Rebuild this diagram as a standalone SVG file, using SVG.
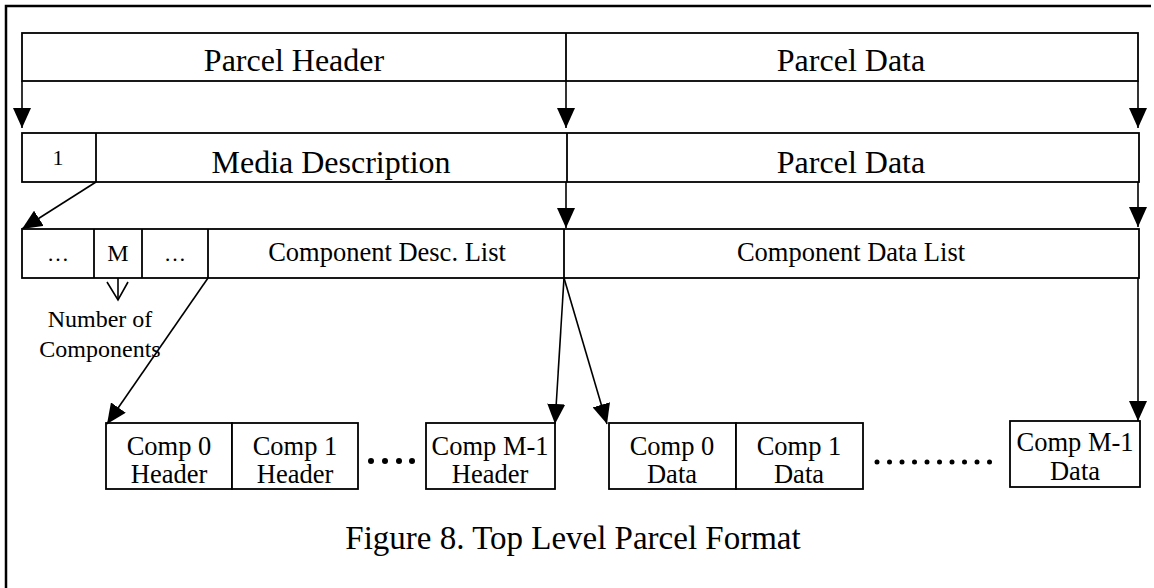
<svg xmlns="http://www.w3.org/2000/svg" width="1154" height="588" viewBox="0 0 1154 588">
  <style>
    .box { fill: #fff; stroke: #000; stroke-width: 1.8; }
    .div { stroke: #000; stroke-width: 1.8; fill: none; }
    .conn { stroke: #000; stroke-width: 1.6; fill: none; }
    .arr { marker-end: url(#head); }
    text { font-family: "Liberation Serif", "Times New Roman", serif; fill: #000; text-anchor: middle; }
    .big { font-size: 32px; }
    .mid { font-size: 26.5px; }
    .note { font-size: 24px; }
    .cap { font-size: 33px; }
  </style>
  <defs>
    <marker id="head" markerUnits="userSpaceOnUse" viewBox="0 0 20 18" markerWidth="20" markerHeight="18" refX="20" refY="9" orient="auto">
      <path d="M0,0 L20,9 L0,18 Z" fill="#000"/>
    </marker>
  </defs>

  <rect width="1154" height="588" fill="#fff"/>
  <!-- frame -->
  <path d="M6,588 V6 H1151" fill="none" stroke="#000" stroke-width="2.5"/>

  <!-- level 1: parcel -->
  <g id="parcel">
    <rect class="box" x="22" y="33" width="1116" height="48"/>
    <line class="div" x1="566" y1="33" x2="566" y2="81"/>
    <text class="big" x="294" y="71">Parcel Header</text>
    <text class="big" x="851" y="71">Parcel Data</text>
  </g>

  <!-- level 2: media description + parcel data -->
  <g id="media">
    <rect class="box" x="22" y="133" width="1117" height="49"/>
    <line class="div" x1="96" y1="133" x2="96" y2="182"/>
    <line class="div" x1="567" y1="133" x2="567" y2="182"/>
    <text x="58" y="165" font-size="22" style="font-size:22px">1</text>
    <text class="big" x="331" y="173">Media Description</text>
    <text class="big" x="851" y="173">Parcel Data</text>
  </g>

  <!-- level 3: component lists -->
  <g id="lists">
    <rect class="box" x="22" y="229" width="1117" height="49"/>
    <line class="div" x1="94" y1="229" x2="94" y2="278"/>
    <line class="div" x1="142" y1="229" x2="142" y2="278"/>
    <line class="div" x1="208" y1="229" x2="208" y2="278"/>
    <line class="div" x1="564" y1="229" x2="564" y2="278"/>
    <text x="58" y="261" style="font-size:22px">…</text>
    <text x="118" y="261" style="font-size:24px">M</text>
    <text x="175" y="261" style="font-size:22px">…</text>
    <text class="mid" x="387" y="261">Component Desc. List</text>
    <text class="mid" x="851" y="261">Component Data List</text>
  </g>

  <!-- count annotation -->
  <g id="count">
    <line class="conn" x1="118" y1="278" x2="118" y2="300"/>
    <polyline class="conn" points="107,282 118,300 128,282"/>
    <text class="note" x="100" y="327">Number of</text>
    <text class="note" x="100" y="357">Components</text>
  </g>

  <!-- component headers -->
  <g id="comp-headers">
    <rect class="box" x="106" y="423" width="126" height="66"/>
    <rect class="box" x="232" y="423" width="126" height="66"/>
    <rect class="box" x="426" y="423" width="129" height="66"/>
    <g fill="#000">
      <circle cx="371" cy="461" r="3"/>
      <circle cx="385" cy="461" r="3"/>
      <circle cx="399" cy="461" r="3"/>
      <circle cx="412" cy="461" r="3"/>
    </g>
    <text class="mid" x="169" y="455">Comp 0</text>
    <text class="mid" x="169" y="483">Header</text>
    <text class="mid" x="295" y="455">Comp 1</text>
    <text class="mid" x="295" y="483">Header</text>
    <text class="mid" x="490" y="455">Comp M-1</text>
    <text class="mid" x="490" y="483">Header</text>
  </g>

  <!-- component data -->
  <g id="comp-data">
    <rect class="box" x="609" y="423" width="127" height="66"/>
    <rect class="box" x="736" y="423" width="127" height="66"/>
    <rect class="box" x="1010" y="421" width="130" height="66"/>
    <g fill="#000">
      <circle cx="877" cy="462" r="2.5"/>
      <circle cx="889.5" cy="462" r="2.5"/>
      <circle cx="902" cy="462" r="2.5"/>
      <circle cx="914.5" cy="462" r="2.5"/>
      <circle cx="927" cy="462" r="2.5"/>
      <circle cx="939.5" cy="462" r="2.5"/>
      <circle cx="952" cy="462" r="2.5"/>
      <circle cx="964.5" cy="462" r="2.5"/>
      <circle cx="977" cy="462" r="2.5"/>
      <circle cx="989.5" cy="462" r="2.5"/>
    </g>
    <text class="mid" x="672" y="455">Comp 0</text>
    <text class="mid" x="672" y="483">Data</text>
    <text class="mid" x="799" y="455">Comp 1</text>
    <text class="mid" x="799" y="483">Data</text>
    <text class="mid" x="1075" y="451">Comp M-1</text>
    <text class="mid" x="1075" y="480">Data</text>
  </g>

  <!-- connectors -->
  <g id="connectors">
    <line class="conn arr" x1="22" y1="81" x2="22" y2="128"/>
    <line class="conn arr" x1="566" y1="81" x2="566" y2="128"/>
    <line class="conn arr" x1="1138" y1="81" x2="1138" y2="128"/>
    <line class="conn arr" x1="96" y1="182" x2="22" y2="229"/>
    <line class="conn arr" x1="566" y1="182" x2="566" y2="228"/>
    <line class="conn arr" x1="1138" y1="182" x2="1138" y2="227"/>
    <line class="conn arr" x1="208" y1="278" x2="107" y2="424"/>
    <line class="conn arr" x1="564" y1="278" x2="555" y2="424"/>
    <line class="conn arr" x1="564" y1="278" x2="607" y2="424"/>
    <line class="conn arr" x1="1138" y1="278" x2="1138" y2="421"/>
  </g>

  <text class="cap" x="573" y="549">Figure 8. Top Level Parcel Format</text>
</svg>
